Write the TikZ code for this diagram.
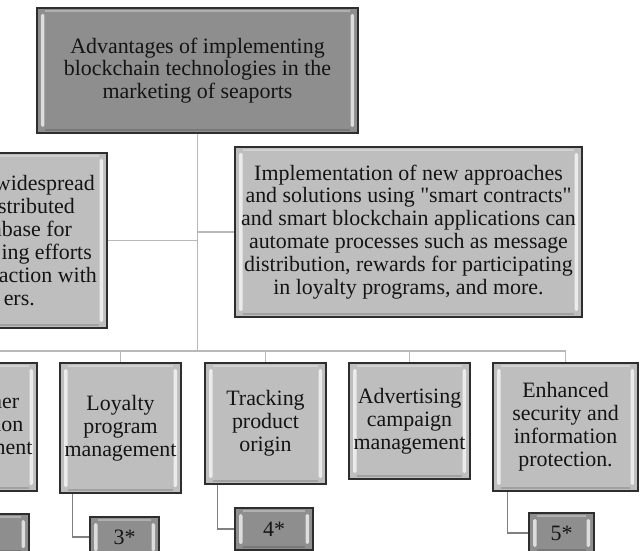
\documentclass[tikz,border=0pt]{standalone}
\usepackage{fontspec}
\setmainfont{Liberation Serif}
\definecolor{linegray}{HTML}{B8B8B8}
\definecolor{subgray}{HTML}{808080}
\definecolor{borderc}{HTML}{2E2E2E}
\definecolor{midfill}{HTML}{BEBEBE}
\definecolor{darkfill}{HTML}{8E8E8E}
\definecolor{textc}{HTML}{141414}
\newcommand{\gap}[1]{\rule{#1}{0pt}}
\begin{document}
\begin{tikzpicture}[x=1bp,y=-1bp,
  conn/.style={draw=linegray, line width=1.6bp},
  subconn/.style={draw=subgray, line width=1.8bp},
  bevel/.style={path picture={
    \fill[white,opacity=.7,rounded corners=1.5bp]
      ([xshift=4bp,yshift=-6bp]path picture bounding box.north west) rectangle
      ([xshift=7.5bp,yshift=6bp]path picture bounding box.south west);
    \fill[white,opacity=.7,rounded corners=1.5bp]
      ([xshift=-4bp,yshift=-6bp]path picture bounding box.north east) rectangle
      ([xshift=-7.5bp,yshift=6bp]path picture bounding box.south east);
    \draw[white,opacity=.3,line width=1.5bp]
      ([xshift=8bp,yshift=-3bp]path picture bounding box.north west) --
      ([xshift=-8bp,yshift=-3bp]path picture bounding box.north east);
    \draw[black,opacity=.15,line width=1.5bp]
      ([xshift=8bp,yshift=3bp]path picture bounding box.south west) --
      ([xshift=-8bp,yshift=3bp]path picture bounding box.south east);
  }},
  box/.style={draw=borderc, line width=1.2bp, fill=midfill, align=center,
    inner sep=2bp, text=textc, font=\fontsize{22}{23}\selectfont, bevel},
  darkbox/.style={box, fill=darkfill},
  plain/.style={inner sep=0pt, text=textc, font=\fontsize{22}{23}\selectfont}
]
\useasboundingbox (0,0) rectangle (640,551);
\clip (0,0) rectangle (640,551);

% main box
\node[darkbox, minimum width=321bp, minimum height=125bp, font=\fontsize{22}{22.5}\selectfont] (top) at (197.5,70.5)
  {Advantages of implementing\\blockchain technologies in the\\marketing of seaports};

% second level
\node[box, minimum width=260bp, minimum height=175bp] (left) at (-23,240.5) {};
\node[plain, align=right, anchor=east] (lefttext) at (97,240.5)
  {widespread\gap{2bp}\\stributed\gap{22bp}\\abase for\gap{25bp}\\ing efforts\gap{5bp}\\action with\\ers.\gap{62bp}};
\node[box, minimum width=347bp, minimum height=170bp] (right) at (408.5,232)
  {Implementation of new approaches\\and solutions using \textquotedbl smart contracts\textquotedbl\\and smart blockchain applications can\\automate processes such as message\\distribution, rewards for participating\\in loyalty programs, and more.};

% third level
\node[box, minimum width=121bp, minimum height=128bp] (customer) at (-23.5,427)
  {Customer\\interaction\\management};
\node[box, minimum width=121bp, minimum height=130bp] (loyalty) at (120.5,428)
  {Loyalty\\program\\management};
\node[box, minimum width=121bp, minimum height=121bp] (tracking) at (265.5,423.5)
  {Tracking\\product\\origin};
\node[box, minimum width=121bp, minimum height=116bp] (advertising) at (409.5,421)
  {Advertising\\campaign\\management};
\node[box, minimum width=145bp, minimum height=128bp] (enhanced) at (565.5,427)
  {Enhanced\\security and\\information\\protection.};

% numbered boxes
\node[darkbox, minimum width=89bp, minimum height=40bp] (s2) at (-15.5,534) {};
\node[darkbox, minimum width=69bp, minimum height=40bp] (s3) at (124.5,537) {3*};
\node[darkbox, minimum width=78bp, minimum height=42bp] (s4) at (274,529) {4*};
\node[darkbox, minimum width=65bp, minimum height=40bp] (s5) at (561.5,533) {5*};

% connectors
\coordinate (bus) at (197.5,351);
\draw[conn] (top.south) -- (bus);
\draw[conn] (left.east) -- (left.east -| top.south);
\draw[conn] (right.west) -- (right.west -| top.south);
\draw[conn] (bus) -| (customer.north);
\draw[conn] (bus) -| (loyalty.north);
\draw[conn] (bus) -| (tracking.north);
\draw[conn] (bus) -| (advertising.north);
\draw[conn] (bus) -| (enhanced.north);

\draw[subconn] ([xshift=13bp]loyalty.south west) |- (s3.west);
\draw[subconn] ([xshift=13bp]tracking.south west) |- (s4.west);
\draw[subconn] ([xshift=15bp]enhanced.south west) |- (s5.west);
\end{tikzpicture}
\end{document}
